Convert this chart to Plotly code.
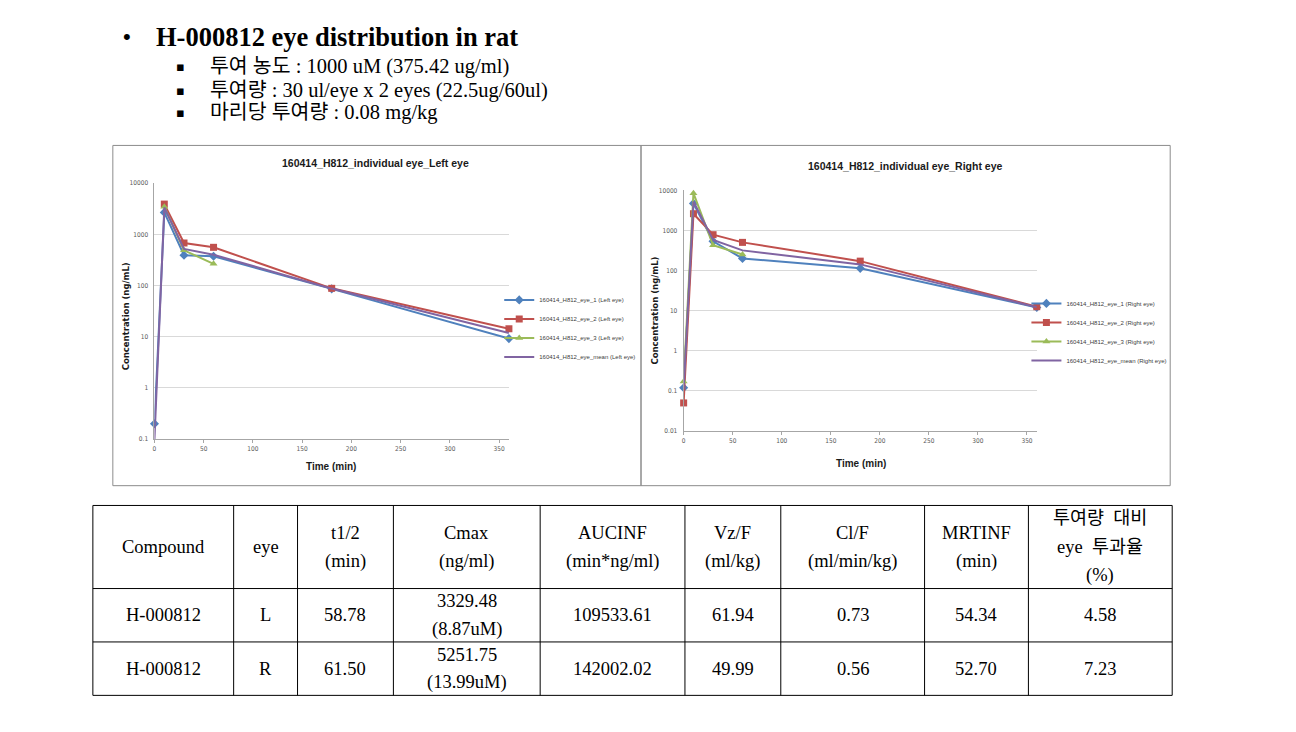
import plotly.graph_objects as go

# ---------------- data ----------------
time_min = [0, 10, 30, 60, 180, 360]

left_eye1 = [0.2, 2670, 390, 372, 86, 9.2]
left_eye2 = [None, 3880, 675, 556, 88, 14.3]
left_eye3 = [None, 3440, 486, 265, None, None]
left_mean = [0.1, 3330, 517, 398, 87, 11.75]

right_eye1 = [0.12, 4700, 533, 200, 113, 12.0]
right_eye2 = [0.05, 2600, 780, 502, 171, 12.5]
right_eye3 = [0.17, 8450, 425, 250, None, None]
right_mean = [0.11, 5250, 579, 317, 142, 12.2]

x_ticks = [0, 50, 100, 150, 200, 250, 300, 350]
y_ticks_left = [0.1, 1, 10, 100, 1000, 10000]
y_ticks_right = [0.01, 0.1, 1, 10, 100, 1000, 10000]
y_ticklabels_left = ["0.1", "1", "10", "100", "1000", "10000"]
y_ticklabels_right = ["0.01", "0.1", "1", "10", "100", "1000", "10000"]

series_names = ["160414_H812_eye_1", "160414_H812_eye_2", "160414_H812_eye_3", "160414_H812_eye_mean"]

title_main = "H-000812 eye distribution in rat"
bullet_lines = [
    "투여 농도 : 1000 uM (375.42 ug/ml)",
    "투여량 : 30 ul/eye x 2 eyes (22.5ug/60ul)",
    "마리당 투여량 : 0.08 mg/kg",
]

table_headers = [
    ["Compound"], ["eye"], ["t1/2", "(min)"], ["Cmax", "(ng/ml)"],
    ["AUCINF", "(min*ng/ml)"], ["Vz/F", "(ml/kg)"], ["Cl/F", "(ml/min/kg)"],
    ["MRTINF", "(min)"], ["투여량  대비", "eye  투과율", "(%)"],
]
compounds = ["H-000812", "H-000812"]
eyes = ["L", "R"]
t_half = [58.78, 61.50]
cmax = [3329.48, 5251.75]
cmax_uM = [8.87, 13.99]
aucinf = [109533.61, 142002.02]
vz_f = [61.94, 49.99]
cl_f = [0.73, 0.56]
mrtinf = [54.34, 52.70]
penetration = [4.58, 7.23]

# ---------------- helpers ----------------
W, H = 1296, 732
def X(px):
    return px / W
def Y(py):
    return 1 - py / H

colors = ["#4F81BD", "#C0504D", "#9BBB59", "#8064A2"]
symbols = ["diamond", "square", "triangle-up", None]

fig = go.Figure()

def add_series(values_list, suffix, xa, ya, legend):
    for vals, name, col, sym in zip(values_list, series_names, colors, symbols):
        mode = "lines+markers" if sym else "lines"
        fig.add_trace(go.Scatter(
            x=time_min, y=vals, name=f"{name} ({suffix})", mode=mode,
            line=dict(color=col, width=2),
            marker=dict(symbol=sym or "circle", size=7, color=col),
            xaxis=xa, yaxis=ya, legend=legend, cliponaxis=False,
        ))

add_series([left_eye1, left_eye2, left_eye3, left_mean], "Left eye", "x", "y", "legend")
add_series([right_eye1, right_eye2, right_eye3, right_mean], "Right eye", "x2", "y2", "legend2")

tickfont = dict(family="Liberation Sans Narrow, DejaVu Sans Condensed, Arial", size=6.5, color="#595959")
xcommon = dict(range=[0, 360], tickvals=x_ticks, showgrid=False, showline=True, linecolor="#A6A6A6",
               ticks="outside", ticklen=3, tickcolor="#A6A6A6", tickfont=tickfont, zeroline=False)
ycommon = dict(type="log", showgrid=True, gridcolor="#D9D9D9", gridwidth=1, showline=True,
               linecolor="#A6A6A6", ticks="", tickfont=tickfont, zeroline=False, ticklabelstandoff=4)

legend_font = dict(family="Liberation Sans Narrow, Arial", size=6, color="#404040")
fig.update_layout(
    width=W, height=H, margin=dict(l=0, r=0, t=0, b=0), autosize=False,
    paper_bgcolor="white", plot_bgcolor="white",
    xaxis=dict(domain=[X(152.7), X(507.7)], anchor="y", **xcommon),
    yaxis=dict(domain=[Y(440), Y(181)], anchor="x", range=[-1, 4],
               tickvals=y_ticks_left, ticktext=y_ticklabels_left, **ycommon),
    xaxis2=dict(domain=[X(682.7), X(1036.4)], anchor="y2", **xcommon),
    yaxis2=dict(domain=[Y(431.7), Y(188.3)], anchor="x2", range=[-2, 4],
                tickvals=y_ticks_right, ticktext=y_ticklabels_right, **ycommon),
    legend=dict(x=X(498), y=Y(328), xanchor="left", yanchor="middle", itemwidth=30,
                bgcolor="rgba(0,0,0,0)", font=legend_font),
    legend2=dict(x=X(1026), y=Y(331.5), xanchor="left", yanchor="middle", itemwidth=30,
                 bgcolor="rgba(0,0,0,0)", font=legend_font),
)

shapes = []
annotations = []

def note(text, px, py, font, xanchor="center", yanchor="middle", **kw):
    annotations.append(dict(text=text, x=X(px), y=Y(py), xref="paper", yref="paper",
                            xanchor=xanchor, yanchor=yanchor, showarrow=False, font=font, **kw))

# chart boxes
for x0, x1 in [(111, 640), (640, 1170)]:
    shapes.append(dict(type="rect", xref="paper", yref="paper", x0=X(x0), x1=X(x1), y0=Y(487), y1=Y(143),
                       line=dict(color="#8C8C8C", width=1), layer="below"))

title_font = dict(family="Liberation Sans, Arial", size=10.5, color="#1a1a1a")
chart_titles = [("160414_H812_individual eye_Left eye", 374, 161), ("160414_H812_individual eye_Right eye", 905, 164)]
for txt, cx, cy in chart_titles:
    note(f"<b>{txt}</b>", cx, cy, title_font)

for cx, cy in [(124, 316), (654, 310)]:
    note("<b>Concentration (ng/mL)</b>", cx, cy,
         dict(family="DejaVu Sans, Verdana, Arial", size=8.5, color="#1a1a1a"), textangle=-90)
for cx, cy in [(330, 467.7), (860, 465)]:
    note("<b>Time (min)</b>", cx, cy, dict(family="Liberation Sans, Arial", size=10, color="#1a1a1a"))

# page title and bullets
serif_kr = "Liberation Serif, Noto Sans CJK KR, serif"
note("•", 125, 33, dict(family="Liberation Sans, Arial", size=22, color="black"))
note(f"<b>{title_main}</b>", 152, 33, dict(family=serif_kr, size=26.5, color="black"), xanchor="left")
for line, cy in zip(bullet_lines, [63, 87, 110]):
    note("▪", 179, cy, dict(family="DejaVu Sans", size=13, color="black"))
    note(line, 206, cy, dict(family=serif_kr, size=20.5, color="black"), xanchor="left")

# table grid
col_edges = [91, 232, 296, 392, 539, 684, 780, 924, 1028, 1172]
row_edges = [507, 591, 645, 699]
for ry in row_edges:
    shapes.append(dict(type="line", xref="paper", yref="paper", x0=X(col_edges[0]), x1=X(col_edges[-1]),
                       y0=Y(ry), y1=Y(ry), line=dict(color="black", width=1)))
for cx in col_edges:
    shapes.append(dict(type="line", xref="paper", yref="paper", x0=X(cx), x1=X(cx),
                       y0=Y(row_edges[0]), y1=Y(row_edges[-1]), line=dict(color="black", width=1)))

table_font = dict(family="Liberation Serif, Noto Sans CJK KR, serif", size=18.5, color="black")

def cell_text(lines, col, r0, r1, gap):
    cx = (col_edges[col] + col_edges[col + 1]) / 2
    cy = (row_edges[r0] + row_edges[r1]) / 2
    n = len(lines)
    for i, t in enumerate(lines):
        note(t, cx, cy + (i - (n - 1) / 2) * gap, table_font)

for c, hdr in enumerate(table_headers):
    cell_text(hdr, c, 0, 1, 29)

for r in range(2):
    rows = [
        [compounds[r]], [eyes[r]], [f"{t_half[r]:.2f}"],
        [f"{cmax[r]:.2f}", f"({cmax_uM[r]:.2f}uM)"],
        [f"{aucinf[r]:.2f}"], [f"{vz_f[r]:.2f}"], [f"{cl_f[r]:.2f}"],
        [f"{mrtinf[r]:.2f}"], [f"{penetration[r]:.2f}"],
    ]
    for c, lines in enumerate(rows):
        cell_text(lines, c, r + 1, r + 2, 28)

fig.update_layout(shapes=shapes, annotations=annotations)
fig.write_html("out.html")
